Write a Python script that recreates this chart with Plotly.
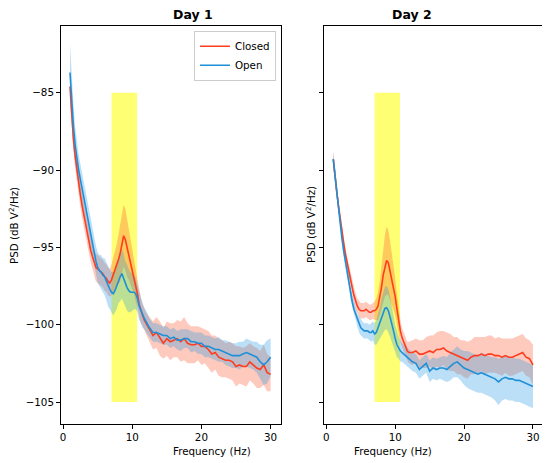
import plotly.graph_objects as go
from plotly.subplots import make_subplots

# frequency grid (Hz): 0.25 Hz steps up to 11.75, then 0.5 Hz steps
FREQ = [1.0, 1.25, 1.5, 1.75, 2.0, 2.25, 2.5, 2.75, 3.0, 3.25, 3.5,
        3.75, 4.0, 4.25, 4.5, 4.75, 5.0, 5.25, 5.5, 5.75, 6.0, 6.25,
        6.5, 6.75, 7.0, 7.25, 7.5, 7.75, 8.0, 8.25, 8.5, 8.75, 9.0,
        9.25, 9.5, 9.75, 10.0, 10.25, 10.5, 10.75, 11.0, 11.25, 11.5, 11.75,
        12.0, 12.5, 13.0, 13.5, 14.0, 14.5, 15.0, 15.5, 16.0, 16.5,
        17.0, 17.5, 18.0, 18.5, 19.0, 19.5, 20.0, 20.5, 21.0, 21.5,
        22.0, 22.5, 23.0, 23.5, 24.0, 24.5, 25.0, 25.5, 26.0, 26.5,
        27.0, 27.5, 28.0, 28.5, 29.0, 29.5, 30.0]

# Day 1 - eyes closed
day1_closed = [-84.6, -86.5, -88.0, -89.1, -90.0, -90.9, -91.6, -92.3, -92.9, -93.4, -93.9,
               -94.6, -95.2, -95.6, -96.0, -96.3, -96.4, -96.5, -96.6, -96.7, -96.9, -97.0,
               -97.2, -97.3, -97.1, -96.8, -96.5, -96.2, -95.8, -95.4, -94.8, -94.25, -94.5,
               -95.0, -95.4, -95.9, -96.4, -96.9, -97.5, -98.0, -98.7, -99.1, -99.4, -99.7,
               -99.9, -100.3, -100.7, -100.5, -100.9, -101.2, -100.9, -101.1, -101.0, -100.9,
               -101.1, -100.9, -101.2, -101.3, -101.3, -101.2, -101.4, -101.4, -101.6, -101.9,
               -101.8, -102.1, -102.2, -102.3, -102.3, -102.4, -102.7, -102.6, -102.7, -102.7,
               -102.4, -102.6, -102.8, -102.9, -102.6, -103.1, -103.2]
day1_closed_ci = [0.8, 0.8, 0.8, 0.8, 0.8, 0.8, 0.8, 0.8, 0.8, 0.8, 0.8,
                  0.8, 0.8, 0.8, 0.9, 0.9, 0.9, 0.9, 0.9, 0.9, 0.9, 0.9,
                  0.9, 0.9, 1.0, 1.1, 1.2, 1.4, 1.6, 1.8, 1.9, 2.0, 2.0,
                  1.9, 1.7, 1.5, 1.3, 1.1, 1.0, 0.9, 0.8, 0.8, 0.7, 0.7,
                  0.7, 0.8, 0.9, 1.0, 1.1, 1.0, 1.1, 1.2, 1.1, 1.2,
                  1.3, 1.4, 1.3, 1.2, 1.2, 1.1, 1.2, 1.1, 1.2, 1.2,
                  1.1, 1.2, 1.2, 1.1, 1.2, 1.2, 1.3, 1.2, 1.2, 1.3,
                  1.2, 1.2, 1.3, 1.2, 1.3, 1.2, 1.1]

# Day 1 - eyes open
day1_open = [-83.7, -85.6, -87.2, -88.4, -89.3, -90.0, -90.6, -91.2, -91.8, -92.3, -92.8,
             -93.4, -94.1, -94.8, -95.4, -95.9, -96.3, -96.5, -96.6, -96.8, -96.9, -97.2,
             -97.5, -97.7, -97.9, -98.0, -97.8, -97.5, -97.1, -96.9, -96.7, -97.0, -97.4,
             -97.6, -97.8, -97.9, -97.9, -97.9, -98.0, -98.3, -98.8, -99.1, -99.4, -99.6,
             -99.8, -100.2, -100.5, -100.5, -100.6, -100.7, -100.7, -100.9, -100.8, -101.0,
             -101.0, -100.9, -100.9, -101.1, -101.1, -101.2, -101.2, -101.4, -101.4, -101.5,
             -101.6, -101.6, -101.7, -101.8, -101.9, -102.0, -102.0, -102.0, -101.9, -101.8,
             -101.9, -102.0, -102.1, -102.4, -102.6, -102.4, -102.1]
day1_open_ci = [1.9, 1.6, 1.4, 1.2, 1.1, 1.0, 1.0, 1.0, 0.9, 0.9, 0.9,
                0.9, 0.9, 0.9, 0.9, 1.0, 1.0, 1.0, 1.1, 1.1, 1.2, 1.2,
                1.3, 1.3, 1.3, 1.4, 1.4, 1.5, 1.5, 1.6, 1.6, 1.6, 1.5,
                1.5, 1.4, 1.3, 1.2, 1.1, 1.0, 0.9, 0.9, 0.8, 0.8, 0.7,
                0.7, 0.6, 0.6, 0.6, 0.6, 0.6, 0.6, 0.6, 0.6, 0.6,
                0.7, 0.6, 0.6, 0.7, 0.6, 0.7, 0.7, 0.7, 0.7, 0.7,
                0.7, 0.8, 0.7, 0.8, 0.8, 0.8, 0.8, 0.9, 0.8, 0.9,
                0.9, 0.9, 1.0, 1.1, 1.3, 1.4, 1.2]

# Day 2 - eyes closed
day2_closed = [-89.3, -90.5, -91.4, -92.3, -93.2, -94.0, -94.7, -95.4, -96.0, -96.5, -97.1,
               -97.6, -98.1, -98.5, -98.8, -99.0, -99.1, -99.1, -99.1, -99.0, -99.1, -99.2,
               -99.2, -99.1, -99.1, -99.0, -98.8, -98.3, -97.6, -96.8, -96.2, -95.85, -96.0,
               -96.5, -97.0, -97.6, -98.2, -99.0, -99.8, -100.4, -100.85, -101.2, -101.4, -101.7,
               -101.8, -101.8, -101.7, -101.9, -101.9, -101.8, -101.7, -101.8, -101.6, -101.6,
               -101.5, -101.7, -101.8, -101.9, -102.0, -102.1, -102.2, -102.3, -102.1, -102.0,
               -102.0, -101.9, -102.0, -101.9, -101.9, -102.0, -102.0, -102.1, -102.0, -102.1,
               -102.1, -102.0, -101.9, -101.8, -102.1, -102.2, -102.6]
day2_closed_ci = [0.5, 0.5, 0.4, 0.4, 0.4, 0.4, 0.4, 0.4, 0.4, 0.4, 0.4,
                  0.4, 0.5, 0.5, 0.5, 0.5, 0.5, 0.5, 0.5, 0.5, 0.5, 0.5,
                  0.5, 0.5, 0.6, 0.7, 0.9, 1.1, 1.4, 1.7, 2.0, 2.2, 2.1,
                  1.9, 1.7, 1.4, 1.2, 1.0, 0.8, 0.7, 0.6, 0.6, 0.6, 0.6,
                  0.7, 0.8, 0.8, 0.9, 0.9, 1.0, 1.0, 1.1, 1.1, 1.2,
                  1.1, 1.2, 1.2, 1.1, 1.2, 1.1, 1.2, 1.2, 1.1, 1.2,
                  1.2, 1.1, 1.2, 1.2, 1.2, 1.1, 1.2, 1.2, 1.1, 1.2,
                  1.2, 1.2, 1.2, 1.2, 1.2, 1.2, 1.3]

# Day 2 - eyes open
day2_open = [-89.3, -90.4, -91.3, -92.4, -93.4, -94.4, -95.2, -95.9, -96.5, -97.2, -98.0,
             -98.5, -99.0, -99.3, -99.7, -100.0, -100.2, -100.3, -100.4, -100.4, -100.4, -100.5,
             -100.5, -100.4, -100.6, -100.5, -100.2, -99.9, -99.5, -99.2, -98.95, -98.9, -99.1,
             -99.5, -99.9, -100.4, -100.9, -101.3, -101.5, -101.7, -101.8, -101.9, -102.0, -102.1,
             -102.2, -102.4, -102.5, -102.9, -102.7, -102.5, -103.0, -102.8, -102.9, -102.8,
             -102.8, -102.9, -102.7, -102.5, -102.4, -102.6, -102.8, -102.9, -103.0, -103.1,
             -103.2, -103.1, -103.2, -103.3, -103.4, -103.5, -103.7, -103.5, -103.4, -103.5,
             -103.5, -103.6, -103.6, -103.7, -103.8, -103.95, -104.0]
day2_open_ci = [0.5, 0.4, 0.4, 0.4, 0.4, 0.4, 0.4, 0.4, 0.4, 0.4, 0.4,
                0.4, 0.4, 0.4, 0.4, 0.5, 0.5, 0.5, 0.5, 0.5, 0.5, 0.5,
                0.6, 0.6, 0.7, 0.8, 0.9, 1.0, 1.2, 1.3, 1.4, 1.4, 1.4,
                1.3, 1.2, 1.0, 0.9, 0.8, 0.7, 0.7, 0.6, 0.6, 0.6, 0.6,
                0.6, 0.6, 0.6, 0.6, 0.6, 0.6, 0.7, 0.7, 0.7, 0.7,
                0.8, 0.8, 0.9, 0.9, 1.0, 1.0, 1.1, 1.2, 1.2, 1.2,
                1.2, 1.3, 1.3, 1.3, 1.3, 1.4, 1.5, 1.4, 1.4, 1.4,
                1.4, 1.4, 1.4, 1.4, 1.4, 1.4, 1.4]

# alpha band highlight
ALPHA_HZ = (7.0, 10.7)
ALPHA_DB = (-105.0, -85.0)

DAYS = ["Day 1", "Day 2"]
Y_TICKS = [-105, -100, -95, -90, -85]
X_TICKS = [0, 10, 20, 30]

RED = "rgb(255,61,30)"
RED_FILL = "rgba(255,80,40,0.3)"
BLUE = "rgb(30,144,216)"
BLUE_FILL = "rgba(30,150,225,0.3)"

for s in [day1_closed, day1_closed_ci, day1_open, day1_open_ci,
          day2_closed, day2_closed_ci, day2_open, day2_open_ci]:
    assert len(s) == len(FREQ), len(s)


def add_band(fig, mean, ci, fill, col):
    lo = [m - c for m, c in zip(mean, ci)]
    hi = [m + c for m, c in zip(mean, ci)]
    fig.add_trace(go.Scatter(x=FREQ, y=lo, mode="lines", line=dict(width=0),
                             showlegend=False, hoverinfo="skip"), row=1, col=col)
    fig.add_trace(go.Scatter(x=FREQ, y=hi, mode="lines", line=dict(width=0),
                             fill="tonexty", fillcolor=fill,
                             showlegend=False, hoverinfo="skip"), row=1, col=col)


fig = make_subplots(rows=1, cols=2, shared_yaxes=True)

panels = [(day1_closed, day1_closed_ci, day1_open, day1_open_ci),
          (day2_closed, day2_closed_ci, day2_open, day2_open_ci)]

for i, (closed, closed_ci, opened, opened_ci) in enumerate(panels):
    col = i + 1
    fig.add_shape(type="rect", x0=ALPHA_HZ[0], x1=ALPHA_HZ[1],
                  y0=ALPHA_DB[0], y1=ALPHA_DB[1],
                  fillcolor="rgba(255,255,0,0.55)", line=dict(width=0),
                  layer="below", row=1, col=col)
    add_band(fig, closed, closed_ci, RED_FILL, col)
    add_band(fig, opened, opened_ci, BLUE_FILL, col)
    fig.add_trace(go.Scatter(x=FREQ, y=closed, mode="lines", name="Closed",
                             line=dict(color=RED, width=1.6),
                             showlegend=(i == 0)), row=1, col=col)
    fig.add_trace(go.Scatter(x=FREQ, y=opened, mode="lines", name="Open",
                             line=dict(color=BLUE, width=1.6),
                             showlegend=(i == 0)), row=1, col=col)

axis_style = dict(showline=True, linecolor="black", linewidth=1, mirror=True,
                  ticks="outside", ticklen=4, tickwidth=0.8, tickcolor="black",
                  showgrid=False, zeroline=False)

fig.update_xaxes(range=[-0.3, 31.46], tickvals=X_TICKS, **axis_style)
fig.update_yaxes(range=[-106.42, -80.69], tickvals=Y_TICKS, **axis_style)
fig.update_yaxes(showticklabels=False, row=1, col=2)

annotations = []
for i, day in enumerate(DAYS):
    xc = [0.2279, 0.7732][i]
    annotations.append(dict(text="<b>%s</b>" % day, x=xc, y=1.03, xref="paper", yref="paper",
                            showarrow=False, font=dict(size=12.5), yanchor="middle"))
    annotations.append(dict(text="Frequency (Hz)", x=xc, y=-0.068, xref="paper", yref="paper",
                            showarrow=False, yanchor="middle"))
    annotations.append(dict(text="PSD (dB V<sup>2</sup>/Hz)", x=[-0.0996, 0.5166][i], y=0.5,
                            xref="paper", yref="paper", showarrow=False, textangle=-90,
                            xanchor="center", yanchor="middle"))

# the page body has an 8px margin, so the figure is 8px smaller and shifted
fig.update_layout(
    width=542, height=455,
    margin=dict(l=53, r=7, t=18, b=39),
    plot_bgcolor="white", paper_bgcolor="white",
    font=dict(family="DejaVu Sans", size=10.3, color="black"),
    xaxis=dict(domain=[0, 0.4558]),
    xaxis2=dict(domain=[0.5463, 1]),
    annotations=annotations,
    legend=dict(x=0.446, y=0.988, xanchor="right", yanchor="top", traceorder="normal",
                bordercolor="#cccccc", borderwidth=1, bgcolor="rgba(255,255,255,0.8)",
                itemwidth=30, font=dict(size=10.3)),
)

fig.write_html("out.html")
